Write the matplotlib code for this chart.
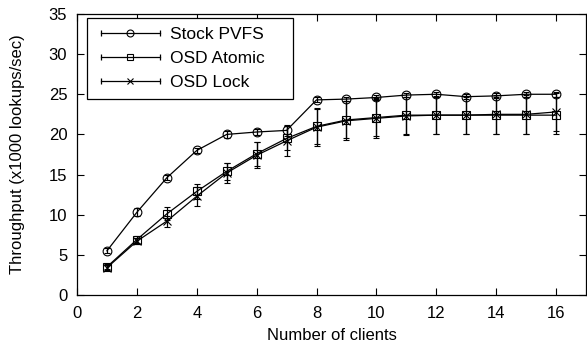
import matplotlib
matplotlib.use('Agg')
import matplotlib.pyplot as plt
from matplotlib.lines import Line2D
from matplotlib.legend_handler import HandlerLine2D

plt.rcParams['font.family'] = ['Liberation Sans', 'DejaVu Sans']

clients = list(range(1, 17))

# throughput (x1000 lookups/sec) and error bar half-widths
stock = [5.5, 10.3, 14.6, 18.0, 20.0, 20.3, 20.5, 24.3, 24.4, 24.6, 24.9, 25.0, 24.7, 24.8, 25.0, 25.0]
stock_err = [0.3, 0.5, 0.3, 0.3, 0.4, 0.4, 0.7, 0.3, 0.3, 0.3, 0.3, 0.3, 0.3, 0.3, 0.3, 0.3]
atomic = [3.5, 6.9, 10.1, 12.9, 15.4, 17.6, 19.5, 21.0, 21.8, 22.1, 22.4, 22.4, 22.4, 22.4, 22.4, 22.4]
atomic_err = [0.3, 0.4, 0.8, 0.9, 1.1, 1.5, 1.5, 2.2, 2.3, 2.3, 2.3, 2.3, 2.3, 2.3, 2.3, 2.3]
lock = [3.4, 6.7, 9.2, 12.3, 15.2, 17.4, 19.2, 20.9, 21.7, 22.0, 22.3, 22.4, 22.4, 22.5, 22.5, 22.8]
lock_err = [0.3, 0.4, 0.7, 1.2, 1.3, 1.6, 1.9, 2.4, 2.4, 2.5, 2.4, 2.4, 2.4, 2.4, 2.4, 2.4]

series = [
    ('Stock PVFS', stock, stock_err, 'o'),
    ('OSD Atomic', atomic, atomic_err, 's'),
    ('OSD Lock', lock, lock_err, 'x'),
]

fig = plt.figure(figsize=(5.87, 3.47), dpi=100)
ax = fig.add_axes([0.1312, 0.1499, 0.867, 0.8098])

handles = []
hmap = {}
for name, y, err, mk in series:
    ax.errorbar(clients, y, yerr=err, color='black', lw=0.9, elinewidth=0.9,
                capsize=2.5, capthick=0.9, marker=mk, markersize=6.3,
                markerfacecolor='none', markeredgecolor='black', markeredgewidth=0.8)
    caps = Line2D([], [], color='black', lw=0.9, marker='|', markersize=5, markeredgewidth=0.9)
    mark = Line2D([], [], color='black', lw=0, marker=mk, markersize=5,
                  markerfacecolor='none', markeredgewidth=0.8)
    hmap[caps] = HandlerLine2D(numpoints=2)
    hmap[mark] = HandlerLine2D(numpoints=1)
    handles.append((caps, mark))

# trailing spaces give the wide right margin of the key box
labels = [s[0] + '    ' for s in series]
leg = ax.legend(handles, labels, handler_map=hmap,
                loc='upper left', bbox_to_anchor=(0.0196, 0.986), fontsize=12.5,
                frameon=True, fancybox=False, edgecolor='black', framealpha=1,
                handlelength=4.0, handletextpad=0.3, labelspacing=0.52,
                borderpad=0.5, borderaxespad=0)
leg.get_frame().set_linewidth(0.9)

ax.set_xlim(0, 17)
ax.set_ylim(0, 35)
ax.set_xticks(range(0, 17, 2))
ax.set_yticks(range(0, 36, 5))
ax.tick_params(direction='in', top=True, right=True, length=5, width=0.8, labelsize=12)
ax.tick_params(axis='y', pad=7)
ax.tick_params(axis='x', pad=8)
for s in ax.spines.values():
    s.set_linewidth(0.9)
ax.set_xlabel('Number of clients', fontsize=12, labelpad=5)
ax.set_ylabel('Throughput (x1000 lookups/sec)', fontsize=12, labelpad=17)

fig.savefig('out.png', dpi=100)
